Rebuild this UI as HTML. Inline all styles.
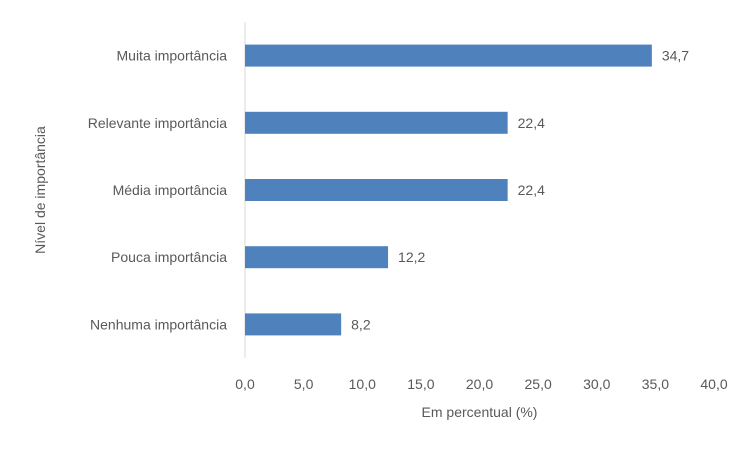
<!DOCTYPE html>
<html><head><meta charset="utf-8"><style>
body{margin:0;background:#fff}
svg text{font-family:"Liberation Sans",sans-serif;fill:#595959;font-size:14px}
</style></head><body>
<svg width="750" height="449">
<g id="plot"></g>
</svg>
<script>
const categories=["Muita importância","Relevante importância","Média importância","Pouca importância","Nenhuma importância"];
const values=[34.7,22.4,22.4,12.2,8.2];
const valueLabels=["34,7","22,4","22,4","12,2","8,2"];
const ticks=[0,5,10,15,20,25,30,35,40];
const tickLabels=["0,0","5,0","10,0","15,0","20,0","25,0","30,0","35,0","40,0"];
const NS="http://www.w3.org/2000/svg";
const plotG=document.getElementById('plot');
const x0=245,x1=714,yTop=22,yBottom=358;
const xs=v=>x0+(v/40)*(x1-x0);
const band=(yBottom-yTop)/categories.length;
const yc=i=>yTop+band*(i+0.5);
function mk(t,a){const e=document.createElementNS(NS,t);for(const k in a)e.setAttribute(k,a[k]);plotG.appendChild(e);return e;}
const ax=mk('line',{x1:x0,x2:x0,y1:yTop,y2:yBottom,stroke:'#d9d9d9','stroke-width':1});


categories.forEach((c,i)=>{
 const b=mk('rect',{x:x0,y:yc(i)-11,width:xs(values[i])-x0,height:22,fill:'#4f81bd'});
 
 
 const l=mk('text',{x:x0-18,y:yc(i)+5,'text-anchor':'end'});l.textContent=c;
 
 
 const v=mk('text',{x:xs(values[i])+10,y:yc(i)+5});v.textContent=valueLabels[i];
 
 
});
ticks.forEach((t,i)=>{
 const e=mk('text',{x:xs(t),y:389,'text-anchor':'middle'});e.textContent=tickLabels[i];
 
 
});
const xt=mk('text',{x:xs(20),y:417,'text-anchor':'middle'});xt.textContent="Em percentual (%)";


const yt=mk('text',{x:0,y:0,'text-anchor':'middle',transform:'translate(45,190) rotate(-90)'});yt.textContent="Nível de importância";


</script>
</body></html>
